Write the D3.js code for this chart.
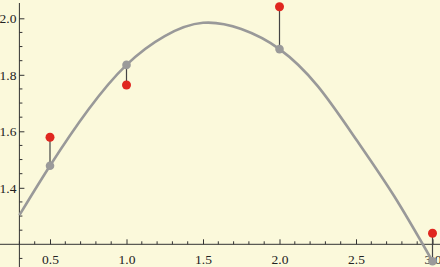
<!DOCTYPE html>
<html>
<head>
<meta charset="utf-8">
<script src="https://cdn.jsdelivr.net/npm/d3@7"></script>
<style>
  html, body { margin: 0; padding: 0; background: #fbf9db; }
  svg { display: block; }
</style>
</head>
<body>
<div id="svg"></div>
<script>
// measured data (red) and fitted values (gray) at the sample x positions
var sampleX = [0.5, 1.0, 2.0, 3.0];
var measured = [1.579, 1.764, 2.041, 1.239];
var fitted = [1.478, 1.835, 1.891, 1.14];

// fitted curve
var curveX = [0.3, 0.5, 0.75, 1.0, 1.25, 1.5, 1.75, 2.0, 2.25, 2.5, 2.75, 3.0];
var curveY = [1.303, 1.478, 1.676, 1.835, 1.937, 1.984, 1.962, 1.891, 1.76, 1.572, 1.37, 1.14];

var xTicks = [0.5, 1.0, 1.5, 2.0, 2.5, 3.0];
var yTicks = [1.4, 1.6, 1.8, 2.0];

var width = 440, height = 267;
var serif = '"Liberation Serif", "Times New Roman", "DejaVu Serif", serif';

var x = d3.scaleLinear().domain([0.5, 3.0]).range([50, 432.5]);
var y = d3.scaleLinear().domain([1.2, 2.0]).range([244.3, 18.3]);

var svg = d3.select('#svg').append('svg')
  .attr('width', width)
  .attr('height', height);

svg.append('rect').attr('width', width).attr('height', height).attr('fill', '#fbf9db');

var axisColor = '#333';

// x axis along y = 1.2, ticks pointing up
var xMinor = d3.range(3, 31).map(function(d) { return d / 10; })
  .filter(function(d) { return Math.abs(d * 2 - Math.round(d * 2)) > 1e-6; });
var xAxis = d3.axisBottom(x).tickValues(xTicks).tickFormat(d3.format('.1f'))
  .tickSizeInner(-5).tickSizeOuter(0).tickPadding(9);
var gx = svg.append('g').attr('transform', 'translate(0,' + y(1.2) + ')').call(xAxis);
gx.attr('font-family', serif).attr('font-size', 13.5);
gx.select('.domain').remove();
gx.append('line').attr('x1', 0).attr('x2', width).attr('stroke', axisColor);
gx.selectAll('.tick line').attr('stroke', axisColor);
gx.selectAll('.tick text').attr('y', 10.5).attr('dy', '0.71em').attr('fill', '#222');
gx.selectAll('.minor').data(xMinor).enter().append('line')
  .attr('x1', function(d) { return x(d); }).attr('x2', function(d) { return x(d); })
  .attr('y1', 0).attr('y2', -3).attr('stroke', axisColor);

// y axis at x = 0.3, ticks pointing right
var yMinor = d3.range(23, 41).map(function(d) { return d * 0.05; })
  .filter(function(d) { return Math.abs(d * 5 - Math.round(d * 5)) > 1e-6; });
var yAxis = d3.axisLeft(y).tickValues(yTicks).tickFormat(d3.format('.1f'))
  .tickSizeInner(-5).tickSizeOuter(0).tickPadding(9);
var gy = svg.append('g').attr('transform', 'translate(' + x(0.3) + ',0)').call(yAxis);
gy.attr('font-family', serif).attr('font-size', 13.5);
gy.select('.domain').remove();
gy.append('line').attr('y1', 3).attr('y2', height).attr('stroke', axisColor);
gy.selectAll('.tick line').attr('stroke', axisColor);
gy.selectAll('.tick text').attr('x', -3).attr('fill', '#222');
gy.selectAll('.minor').data(yMinor).enter().append('line')
  .attr('y1', function(d) { return y(d); }).attr('y2', function(d) { return y(d); })
  .attr('x1', 0).attr('x2', 3).attr('stroke', axisColor);

// residual lines
svg.selectAll('.resid').data(sampleX).enter().append('line')
  .attr('x1', function(d) { return x(d); }).attr('x2', function(d) { return x(d); })
  .attr('y1', function(d, i) { return y(measured[i]); })
  .attr('y2', function(d, i) { return y(fitted[i]); })
  .attr('stroke', '#444').attr('stroke-width', 1.2);

// fitted curve
var line = d3.line()
  .x(function(d) { return x(d[0]); })
  .y(function(d) { return y(d[1]); })
  .curve(d3.curveNatural);
svg.append('path')
  .attr('d', line(d3.zip(curveX, curveY)))
  .attr('fill', 'none').attr('stroke', '#999').attr('stroke-width', 2.6);

// fitted points
svg.selectAll('.fit').data(sampleX).enter().append('circle')
  .attr('cx', function(d) { return x(d); })
  .attr('cy', function(d, i) { return y(fitted[i]); })
  .attr('r', 4.3).attr('fill', '#9a9a9a');

// measured points
svg.selectAll('.meas').data(sampleX).enter().append('circle')
  .attr('cx', function(d) { return x(d); })
  .attr('cy', function(d, i) { return y(measured[i]); })
  .attr('r', 4.5).attr('fill', '#e0271f');
</script>
</body>
</html>
